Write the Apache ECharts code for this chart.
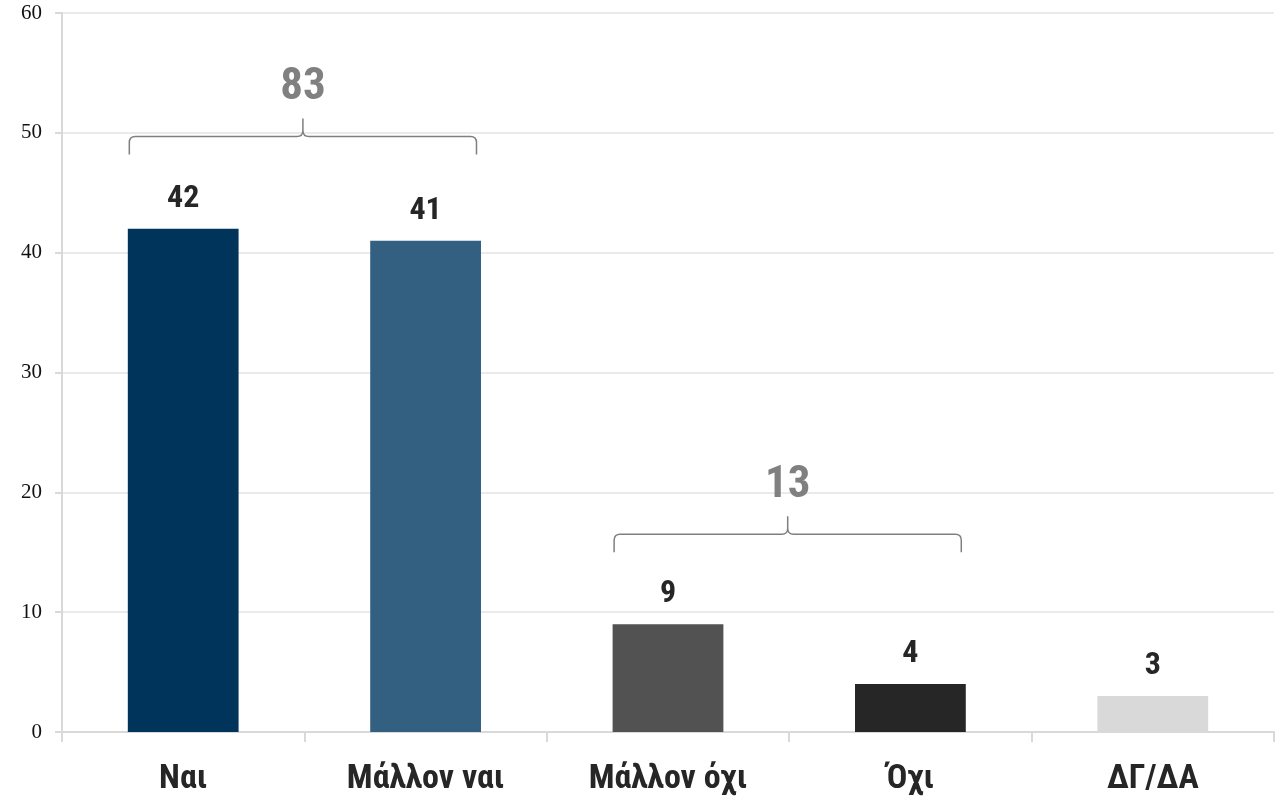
<!DOCTYPE html>
<html>
<head>
<meta charset="utf-8">
<style>
  html, body { margin: 0; padding: 0; background: #ffffff; }
  #chart { width: 1276px; height: 798px; }
</style>
<script src="https://cdn.jsdelivr.net/npm/echarts@6/dist/echarts.min.js"></script>
</head>
<body>
<div id="chart"></div>
<script>
// ---- Data ----
var categories = ['Ναι', 'Μάλλον ναι', 'Μάλλον όχι', 'Όχι', 'ΔΓ/ΔΑ'];
var values = [42, 41, 9, 4, 3];
var barColors = ['#00345a', '#335f80', '#525252', '#262626', '#d9d9d9'];
var yTicks = [0, 10, 20, 30, 40, 50, 60];

// Group braces: first category index, last category index, brace level (value), total label
var braceStart = [0, 2];
var braceEnd = [1, 3];
var braceLevel = [49.7, 16.5];
var braceTotal = [83, 13];

var condFont = '"Roboto Condensed", "Liberation Sans Narrow", "Roboto", sans-serif';

var chart = echarts.init(document.getElementById('chart'), null, { renderer: 'canvas' });

var braceData = braceStart.map(function (s, i) {
  return [s, braceEnd[i], braceLevel[i], braceTotal[i]];
});

var BAR_FRAC = 0.457;

var option = {
  animation: false,
  backgroundColor: '#ffffff',
  grid: { left: 62, right: 2, top: 13, bottom: 66, containLabel: false },
  xAxis: {
    type: 'category',
    data: categories,
    axisLine: { show: true, lineStyle: { color: '#d9d9d9', width: 2 } },
    axisTick: { show: true, length: 10, lineStyle: { color: '#d9d9d9', width: 2 } },
    axisLabel: {
      interval: 0,
      color: '#262626',
      fontFamily: condFont,
      fontWeight: 'bold',
      fontSize: 34,
      margin: 30
    }
  },
  yAxis: {
    type: 'value',
    min: yTicks[0],
    max: yTicks[yTicks.length - 1],
    interval: 10,
    axisLine: { show: true, lineStyle: { color: '#d9d9d9', width: 2 } },
    axisTick: { show: true, length: 7, lineStyle: { color: '#d9d9d9', width: 2 } },
    splitLine: { show: true, lineStyle: { color: '#e3e3e3', width: 1.5 } },
    axisLabel: {
      color: '#111111',
      fontFamily: '"Liberation Serif", "DejaVu Serif", serif',
      fontSize: 21,
      margin: 20
    }
  },
  series: [
    {
      type: 'bar',
      barWidth: (BAR_FRAC * 100) + '%',
      data: values.map(function (v, i) {
        return { value: v, itemStyle: { color: barColors[i] } };
      }),
      label: {
        show: true,
        position: 'top',
        distance: 14,
        color: '#262626',
        fontFamily: condFont,
        fontWeight: 'bold',
        fontSize: 32
      },
      z: 2
    },
    {
      type: 'custom',
      coordinateSystem: 'cartesian2d',
      data: braceData,
      encode: { x: [0, 1], y: 2 },
      z: 3,
      renderItem: function (params, api) {
        var s = api.value(0), e = api.value(1), lvl = api.value(2), total = api.value(3);
        var band = api.size([1, 0])[0];
        var half = band * BAR_FRAC / 2;
        var p1 = api.coord([s, lvl]);
        var p2 = api.coord([e, lvl]);
        var x1 = p1[0] - half + 1.5;
        var x2 = p2[0] + half - 4.5;
        var y = p1[1];
        var xm = (x1 + x2) / 2;
        var drop = 18, tip = 18, r = 6;
        var d = 'M' + x1 + ' ' + (y + drop) +
          ' L' + x1 + ' ' + (y + r) +
          ' Q' + x1 + ' ' + y + ' ' + (x1 + r) + ' ' + y +
          ' L' + (xm - r) + ' ' + y +
          ' Q' + xm + ' ' + y + ' ' + xm + ' ' + (y - r) +
          ' L' + xm + ' ' + (y - tip) +
          ' M' + xm + ' ' + (y - r) +
          ' Q' + xm + ' ' + y + ' ' + (xm + r) + ' ' + y +
          ' L' + (x2 - r) + ' ' + y +
          ' Q' + x2 + ' ' + y + ' ' + x2 + ' ' + (y + r) +
          ' L' + x2 + ' ' + (y + drop);
        return {
          type: 'group',
          children: [
            {
              type: 'path',
              shape: { pathData: d },
              style: { fill: null, stroke: '#7f7f7f', lineWidth: 1.5 }
            },
            {
              type: 'text',
              style: {
                text: String(total),
                x: xm,
                y: y - tip - 31,
                textAlign: 'center',
                textVerticalAlign: 'middle',
                fill: '#808080',
                font: 'bold 45px ' + condFont
              }
            }
          ]
        };
      }
    }
  ]
};

chart.setOption(option);
</script>
</body>
</html>
